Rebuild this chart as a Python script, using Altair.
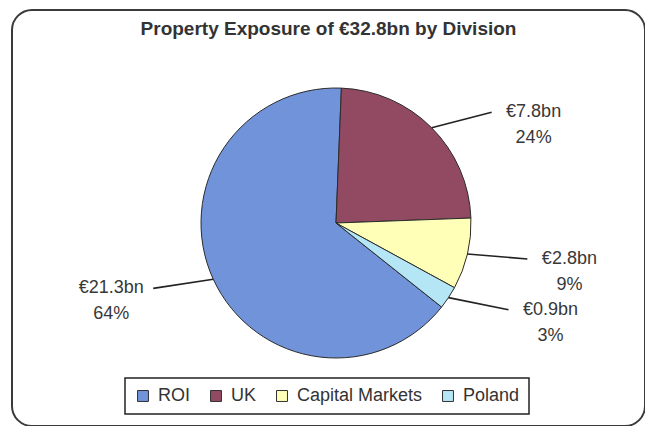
import math
import altair as alt
import pandas as pd

# ---- data ----
divisions = ["ROI", "UK", "Capital Markets", "Poland"]
values_bn = [21.3, 7.8, 2.8, 0.9]
shares_pct = [64, 24, 9, 3]
pie_order = [3, 0, 1, 2]          # clockwise from 12 o'clock: UK, Capital Markets, Poland, ROI
colors = ["#7093D9", "#924A62", "#FFFFB8", "#B5E6F6"]

df = pd.DataFrame({
    "division": divisions,
    "value": values_bn,
    "share": shares_pct,
    "order": pie_order,
})

W, H = 633, 416
CX, CY = 324, 213          # pie centre inside the view
R = 135
THETA0 = 0.04
LEAD = 60
TXT = 42

xs = alt.Scale(domain=[-CX, W - CX], nice=False, zero=False)
ys = alt.Scale(domain=[-(H - CY), CY], nice=False, zero=False)

color_scale = alt.Scale(domain=divisions, range=colors)

pie = alt.Chart(df).mark_arc(radius=R, stroke="#2b2b2b", strokeWidth=1).encode(
    theta=alt.Theta("value:Q", stack=True,
                    scale=alt.Scale(range=[THETA0, THETA0 + 2 * math.pi])),
    color=alt.Color("division:N", scale=color_scale, sort=divisions,
                    legend=alt.Legend(title=None)),
    order=alt.Order("order:Q"),
    x=alt.datum(0, scale=xs, axis=None),
    y=alt.datum(0, scale=ys, axis=None),
)

geo = (
    alt.Chart(df)
    .transform_joinaggregate(total="sum(value)")
    .transform_window(cum="sum(value)", sort=[alt.SortField("order")], frame=[None, 0])
    .transform_calculate(
        mid=f"(datum.cum - datum.value / 2) / datum.total * 2 * PI + {THETA0}",
    )
    .transform_calculate(
        s="sin(datum.mid) >= 0 ? 1 : -1",
        ex=f"{R} * sin(datum.mid)",
        ey=f"{R} * cos(datum.mid)",
    )
    .transform_calculate(
        ox=f"datum.ex + datum.s * {LEAD}",
        oy="datum.ey + 22 * cos(datum.mid)",
    )
    .transform_calculate(
        tx=f"datum.ox + datum.s * {TXT}",
        label="'€' + format(datum.value, '.1f') + 'bn\\n' + datum.share + '%'",
    )
)

leaders = geo.mark_rule(color="#222222", strokeWidth=1.6).encode(
    x=alt.X("ex:Q", scale=xs, axis=None),
    y=alt.Y("ey:Q", scale=ys, axis=None),
    x2="ox:Q",
    y2="oy:Q",
)

labels = geo.mark_text(
    font="Liberation Sans", fontSize=18, color="#383838",
    align="center", baseline="middle", lineBreak="\n", lineHeight=26,
).encode(
    x=alt.X("tx:Q", scale=xs, axis=None),
    y=alt.Y("oy:Q", scale=ys, axis=None),
    text="label:N",
)

chart = (
    alt.layer(pie, leaders, labels)
    .properties(
        width=W, height=H,
        title=alt.TitleParams(
            "Property Exposure of €32.8bn by Division",
            font="Liberation Sans", fontSize=19, fontWeight="bold",
            color="#333333", anchor="middle", offset=-29,
        ),
        autosize=alt.AutoSizeParams(type="none"),
        padding={"left": 4, "top": 2, "right": 0, "bottom": 0},
    )
    .configure_view(stroke="#3a3a3a", strokeWidth=2, cornerRadius=20, fill="white")
    .configure_legend(
        orient="none", legendX=113, legendY=368,
        direction="horizontal", columns=4,
        symbolType="square", symbolSize=120,
        symbolStrokeColor="#333333", symbolStrokeWidth=1,
        labelFont="Liberation Sans", labelFontSize=18, labelColor="#333333",
        labelOffset=6, columnPadding=16, padding=9,
        strokeColor="#222222", strokeWidth=1.5,
    )
)

chart.save("out.html", embed_options={"renderer": "svg", "actions": False})
